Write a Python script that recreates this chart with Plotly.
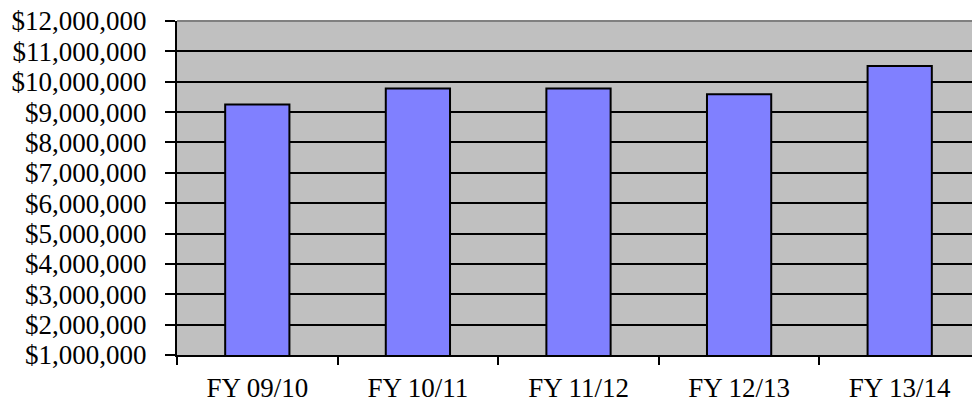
import plotly.graph_objects as go

categories = ["FY 09/10", "FY 10/11", "FY 11/12", "FY 12/13", "FY 13/14"]
values = [9250000, 9780000, 9780000, 9590000, 10520000]
y_tick_values = [1000000 * i for i in range(1, 13)]

font_family = "Liberation Serif, Times New Roman, serif"

fig = go.Figure(
    go.Bar(
        x=categories,
        y=values,
        marker=dict(color="#8080FF", line=dict(color="#000000", width=2)),
        width=0.4,
    )
)

# The page body has a default 8px margin, so the figure is offset by 8px.
fig.update_layout(
    width=972,
    height=394,
    margin=dict(l=169, r=0, t=13, b=47),
    paper_bgcolor="white",
    plot_bgcolor="#C0C0C0",
    showlegend=False,
    font=dict(family=font_family, size=27, color="#000000"),
    shapes=[
        dict(type="line", xref="paper", yref="paper", x0=0, x1=1, y0=1, y1=1,
             line=dict(color="#808080", width=2), layer="above"),
    ],
)

fig.update_xaxes(
    type="category",
    range=[-0.5, 4.5],
    automargin=False,
    showgrid=False,
    showline=True,
    linecolor="#000000",
    linewidth=2,
    ticks="outside",
    tickson="boundaries",
    ticklen=8,
    tickwidth=2,
    tickcolor="#000000",
    ticklabelstandoff=8,
    ticklabeloverflow="allow",
    zeroline=False,
)

fig.update_yaxes(
    range=[1000000, 12000000],
    automargin=False,
    tickvals=y_tick_values,
    tickformat="$,.0f",
    showgrid=True,
    gridcolor="#000000",
    gridwidth=2,
    showline=True,
    linecolor="#000000",
    linewidth=2,
    ticks="outside",
    ticklen=10,
    tickwidth=2,
    tickcolor="#000000",
    ticklabelstandoff=13,
    ticklabeloverflow="allow",
    zeroline=False,
)

fig.write_html("out.html")
